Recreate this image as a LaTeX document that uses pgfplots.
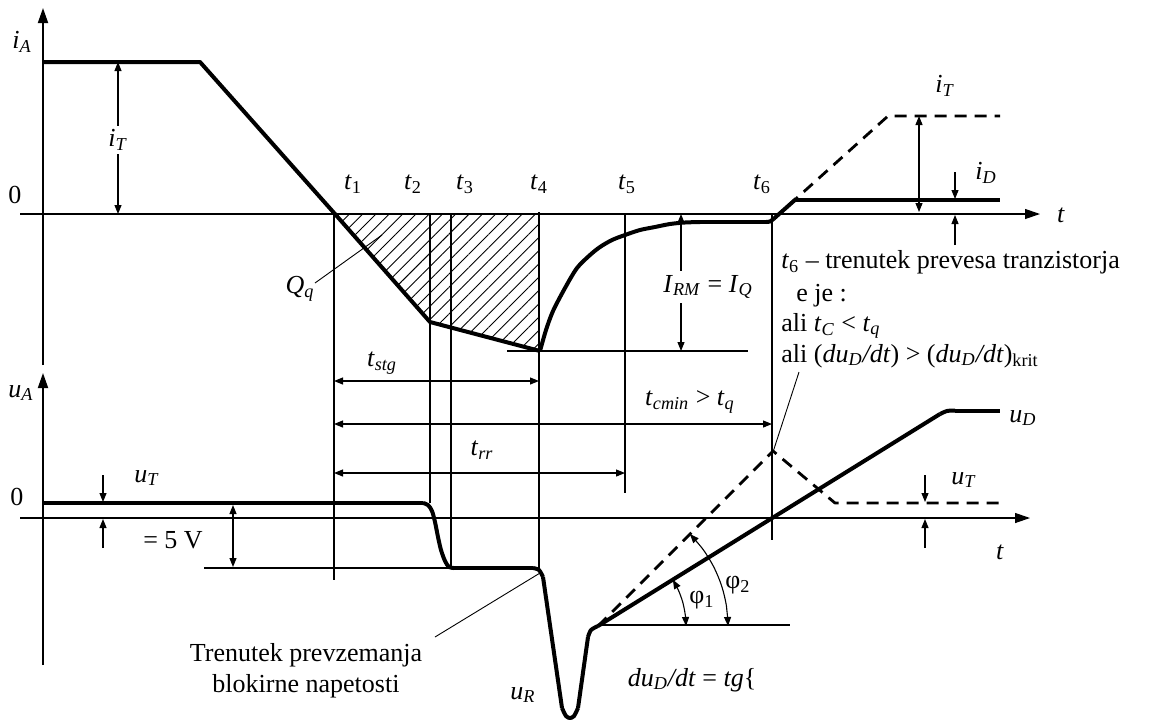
\documentclass[border=0pt]{standalone}
\usepackage{fontspec}
\setmainfont{Liberation Serif}
\usepackage{pgfplots}
\pgfplotsset{compat=1.18}
\usetikzlibrary{arrows.meta,patterns.meta}

% italic quantity with italic / upright subscript
\newcommand{\vs}[2]{\textit{#1}\textsubscript{\textit{#2}}}
\newcommand{\vn}[2]{\textit{#1}\textsubscript{#2}}
\newcommand{\dudt}{\textit{du}\textsubscript{\textit{D}}\textit{/dt}}

\tikzset{
  thinln/.style={black, line width=0.55pt},
  wave/.style={black, line width=2pt, line join=round},
  dashln/.style={black, line width=1.4pt, dash pattern=on 6pt off 4pt, line join=round},
  ax/.style={black, line width=0.9pt, -{Triangle[length=7.5pt,width=5pt]}},
  ar/.style={black, line width=0.55pt, -{Triangle[length=4.5pt,width=3.5pt]}},
  dar/.style={black, line width=0.55pt, {Triangle[length=4.5pt,width=3.5pt]}-{Triangle[length=4.5pt,width=3.5pt]}},
  lbl/.style={font=\fontsize{13}{15}\selectfont, inner sep=0.5pt},
}

\begin{document}
\begin{tikzpicture}
\begin{axis}[scale only axis, width=574.5pt, height=361.5pt,
  xmin=0, xmax=1149, ymin=0, ymax=723, y dir=reverse,
  hide axis, clip=false]

% ---------- upper diagram: anode current ----------
% stored charge Q_q (hatched)
\addplot[draw=none, pattern={Lines[angle=45, distance=4.7pt, line width=0.45pt]}]
  coordinates {(334,214) (430,322) (539,351) (539,214)} -- cycle;

% axes
\addplot[ax] coordinates {(43,365) (43,8)};
\addplot[ax, line width=0.6pt] coordinates {(20,214) (1040,214)};

% time markers
\addplot[thinln] coordinates {(334,214) (334,580)};
\addplot[thinln] coordinates {(430,214) (430,503)};
\addplot[black, line width=0.9pt] coordinates {(451,214) (451,568)};
\addplot[thinln] coordinates {(539,212) (539,572)};
\addplot[black, line width=0.8pt] coordinates {(625,214) (625,493)};
\addplot[thinln] coordinates {(772,214) (772,540)};
\addplot[black, line width=0.7pt] coordinates {(507,351) (748,351)};

% i_A waveform
\addplot[wave] coordinates {(43,62) (200,62) (335,214) (430,322) (540,351)};
\addplot[wave, smooth] coordinates {(540,351) (546,330) (553,311) (565,288) (577,268)
  (590,255) (600,247) (612,240) (625,235) (640,230) (655,227) (670,224) (685,222.5) (700,222)};
\addplot[wave] coordinates {(700,222) (766,222)};
\addplot[wave, smooth] coordinates {(766,222) (770,221.5) (774,218.5)};
\addplot[wave] coordinates {(774,218.5) (796,199)};
\addplot[wave] coordinates {(794,200) (1000,200)};
\addplot[dashln] coordinates {(774,218.5) (888,116) (1000,116)};

% current arrows
\addplot[dar] coordinates {(118,62) (118,214)};
\addplot[dar] coordinates {(919,116) (919,212)};
\addplot[ar] coordinates {(955,172) (955,199)};
\addplot[ar] coordinates {(955,245) (955,215)};
\addplot[dar] coordinates {(681,214) (681,351)};

% Q_q leader
\addplot[black, line width=0.45pt] coordinates {(315,283) (382,235)};

% interval dimensions
\addplot[dar] coordinates {(334,381) (539,381)};
\addplot[dar] coordinates {(334,424) (772,424)};
\addplot[dar] coordinates {(334,473) (625,473)};

% ---------- lower diagram: anode voltage ----------
\addplot[ax] coordinates {(43,665) (43,373)};
\addplot[ax, line width=0.6pt] coordinates {(20,518) (1030,518)};
\addplot[black, line width=0.8pt] coordinates {(204,568) (454,568)};
\addplot[thinln] coordinates {(598,625) (790,625)};

% u_A waveform
\addplot[wave] coordinates {(43,503) (423,503)};
\addplot[wave, smooth] coordinates {(423,503) (428,505) (432,511) (435,522) (438,537)
  (441,550) (445,561) (449,567) (454,568)};
\addplot[wave] coordinates {(454,568) (533,568)};
\addplot[wave, smooth] coordinates {(533,568) (539,570) (543,577)};
\addplot[wave] coordinates {(543,577) (562,708)};
\addplot[wave, smooth] coordinates {(562,708) (566,716) (570,718) (574,716) (578,708)};
\addplot[wave] coordinates {(578,708) (588,637)};
\addplot[wave, smooth] coordinates {(588,637) (591,630) (598,626)};
\addplot[wave] coordinates {(598,626) (940,414)};
\addplot[wave, smooth] coordinates {(940,414) (947,411) (955,410.5)};
\addplot[wave] coordinates {(955,410.5) (1000,410.5)};
\addplot[dashln] coordinates {(598,626) (773,451) (835,503) (1000,503)};

% voltage arrows
\addplot[ar] coordinates {(103,475) (103,502)};
\addplot[ar] coordinates {(103,548) (103,519)};
\addplot[dar] coordinates {(233,505) (233,567)};
\addplot[ar] coordinates {(925,475) (925,502)};
\addplot[ar] coordinates {(925,548) (925,519)};

% slope angles
\addplot[dar, smooth] coordinates {(686,626) (685.1,613.8) (682.6,601.7) (678.4,590.2) (672.9,579.8)};
\addplot[dar, smooth] coordinates {(728,626) (726.4,605.7) (721.6,585.8) (713.8,567.0) (703.2,549.6) (689.9,534.1)};

% leaders
\addplot[black, line width=0.45pt] coordinates {(435,637) (540,573)};
\addplot[black, line width=0.45pt] coordinates {(799,372) (773,452)};

% ---------- labels ----------
\node[lbl] at (22,42) {\vs{i}{A}};
\node[lbl] at (15,195) {0};
\node[lbl, fill=white, inner sep=2pt] at (118,140) {\vs{i}{T}};
\node[lbl] at (353,184) {\vn{t}{1}};
\node[lbl] at (413,184) {\vn{t}{2}};
\node[lbl] at (465,184) {\vn{t}{3}};
\node[lbl] at (539,184) {\vn{t}{4}};
\node[lbl] at (627,184) {\vn{t}{5}};
\node[lbl] at (762,184) {\vn{t}{6}};
\node[lbl] at (1061,215) {\textit{t}};
\node[lbl] at (945,86) {\vs{i}{T}};
\node[lbl] at (986,173) {\vs{i}{D}};
\node[lbl] at (300,289) {\vs{Q}{q}};
\node[lbl, fill=white, inner sep=2pt] at (708,287) {\vs{I}{RM} = \vs{I}{Q}};

\node[lbl, anchor=west] at (780,262) {\vn{t}{6} -- trenutek prevesa tranzistorja};
\node[lbl, anchor=west] at (795,296) {e je :};
\node[lbl, anchor=west] at (780,326) {ali \vs{t}{C} < \vs{t}{q}};
\node[lbl, anchor=west] at (780,356) {ali (\dudt) > (\dudt)\textsubscript{krit}};

\node[lbl] at (382,363) {\vs{t}{stg}};
\node[lbl] at (690,402) {\vs{t}{cmin} > \vs{t}{q}};
\node[lbl] at (482,450) {\vs{t}{rr}};

\node[lbl] at (21,393) {\vs{u}{A}};
\node[lbl] at (17,497) {0};
\node[lbl] at (147,478) {\vs{u}{T}};
\node[lbl] at (173,540) {= 5 V};
\node[lbl] at (1023,418) {\vs{u}{D}};
\node[lbl] at (964,480) {\vs{u}{T}};
\node[lbl] at (1000,552) {\textit{t}};
\node[lbl] at (702,600) {φ\textsubscript{1}};
\node[lbl] at (738,585) {φ\textsubscript{2}};
\node[lbl] at (306,655) {Trenutek prevzemanja};
\node[lbl] at (306,686) {blokirne napetosti};
\node[lbl] at (523,695) {\vs{u}{R}};
\node[lbl] at (692,680) {\dudt{} = \textit{tg}\{};
\end{axis}
\pgfresetboundingbox
\path (current axis.south west) rectangle (current axis.north east);
\end{tikzpicture}
\end{document}
